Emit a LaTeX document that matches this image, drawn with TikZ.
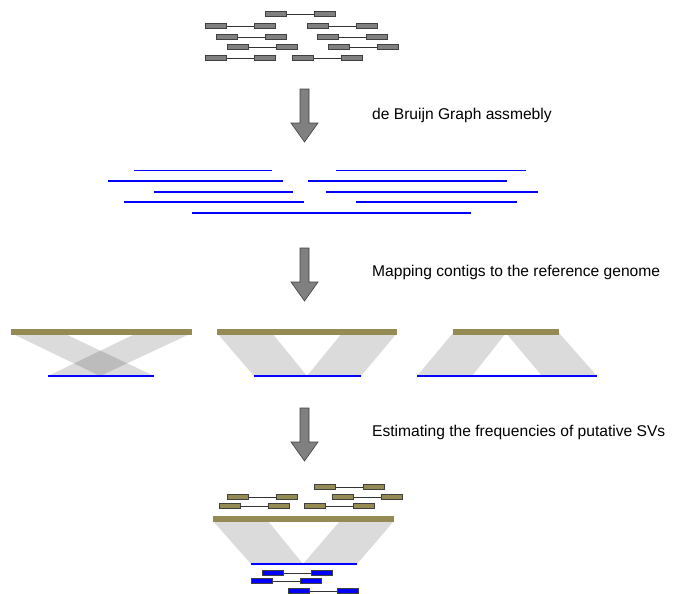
\documentclass[tikz,border=0pt]{standalone}
\usepackage{fontspec}
\setmainfont{Liberation Sans}
\usetikzlibrary{positioning}
\definecolor{readgray}{HTML}{808080}
\definecolor{refolive}{HTML}{948A54}
\tikzset{>=latex,
  readbox/.style={draw=black!75, line width=0.7pt, minimum width=21pt, minimum height=5pt, inner sep=0pt},
  contig/.style={blue, line width=1.6pt},
  mapline/.style={blue, line width=1.3pt},
  band/.style={fill=black, fill opacity=0.14},
  refbar/.style={fill=refolive},
  flowarrow/.style={fill=readgray, draw=black!75, line width=0.6pt},
  steplabel/.style={anchor=west, inner sep=0pt, font=\fontsize{15.6}{18}\selectfont}}
\newcommand{\readpair}[4]{%
  \node[readbox, fill=#4, anchor=west] (#1a) at (#2,#3) {};
  \node[readbox, fill=#4, right=27.5pt of #1a] (#1b) {};
  \draw[line width=0.7pt, black!80] (#1a) -- (#1b);}
\newcommand{\flowarrow}[2]{%
  \draw[flowarrow] (#1-4.5,#2) -- (#1+4.5,#2) -- (#1+4.5,#2+34) -- (#1+13.5,#2+34)
    -- (#1,#2+53) -- (#1-13.5,#2+34) -- (#1-4.5,#2+34) -- cycle;}
\begin{document}
\begin{tikzpicture}[x=1pt,y=-1pt]
\useasboundingbox (0,0) rectangle (680,594);
\foreach \n/\x/\y in {g1/265/14, g2/205/26, g3/307/26, g4/216/37, g5/317/37,
  g6/227/47, g7/328/47, g8/205/58, g9/292/58}
  \readpair{\n}{\x}{\y}{readgray};
\flowarrow{304.5}{89}
\node[steplabel] (s1) at (372,115) {de Bruijn Graph assmebly};
\foreach \a/\b/\y in {134/272/170.5, 336/526/170.5, 108/283/181, 308/507/181,
  154/293/192, 326/538/192, 124/304/202, 356/517/202, 192/471/213}
  \draw[contig] (\a,\y) -- (\b,\y);
\flowarrow{304.5}{248}
\node[steplabel] (s2) at (372,272) {Mapping contigs to the reference genome};
\fill[band] (11,333) -- (63,333) -- (154,376) -- (100,376) -- cycle;
\fill[band] (137,333) -- (192,333) -- (100,376) -- (48,376) -- cycle;
\fill[refbar] (11,329) rectangle (192,334.5);
\draw[mapline] (48,376) -- (154,376);
\fill[band] (217,333) -- (272,333) -- (307,376) -- (254,376) -- cycle;
\fill[band] (342,333) -- (397,333) -- (361,376) -- (307,376) -- cycle;
\fill[refbar] (217,329) rectangle (397,334.5);
\draw[mapline] (254,376) -- (361,376);
\fill[band] (453,333) -- (506,333) -- (472,376) -- (417,376) -- cycle;
\fill[band] (506,333) -- (559,333) -- (597,376) -- (542,376) -- cycle;
\fill[refbar] (453,329) rectangle (559,334.5);
\draw[mapline] (417,376) -- (597,376);
\flowarrow{304.5}{408}
\node[steplabel] (s3) at (372,432) {Estimating the frequencies of putative SVs};
\foreach \n/\x/\y in {o1/314/487, o2/227/497, o3/332/497, o4/219/506, o5/304/506}
  \readpair{\n}{\x}{\y}{refolive};
\fill[band] (213,521) -- (268,521) -- (303,564) -- (251,564) -- cycle;
\fill[band] (340,521) -- (394,521) -- (357,564) -- (303,564) -- cycle;
\fill[refbar] (213,516) rectangle (394,522);
\draw[mapline] (251,564) -- (357,564);
\foreach \n/\x/\y in {b1/262/573, b2/251/581, b3/288/591}
  \readpair{\n}{\x}{\y}{blue};
\end{tikzpicture}
\end{document}
